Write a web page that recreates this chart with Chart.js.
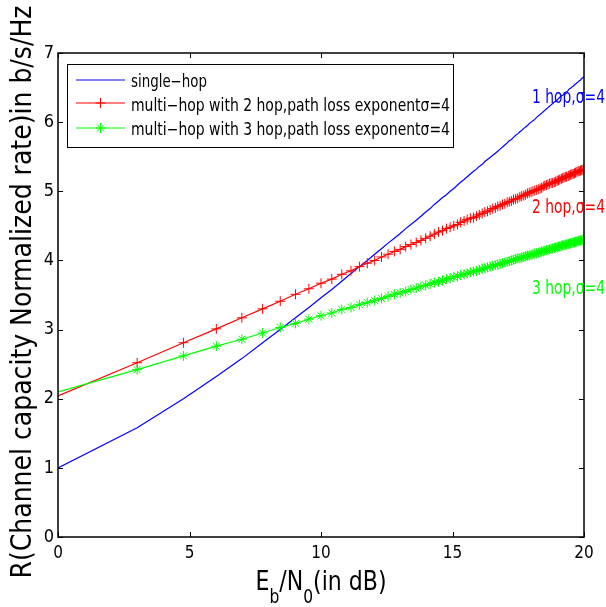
<!DOCTYPE html>
<html>
<head>
<meta charset="utf-8">
<script src="https://cdn.jsdelivr.net/npm/chart.js@4/dist/chart.umd.min.js"></script>
<style>
  html, body { margin: 0; padding: 0; background: #fff; }
  #wrap { width: 606px; height: 607px; }
</style>
</head>
<body>
<div id="wrap"><canvas id="c" width="606" height="607"></canvas></div>
<script>
// Eb/N0 in dB
const snrDb = [
  0, 3.01, 4.77, 6.02, 6.99, 7.78, 8.45, 9.03, 9.54, 10,
  10.41, 10.79, 11.14, 11.46, 11.76, 12.04, 12.30, 12.55, 12.79, 13.01,
  13.22, 13.42, 13.62, 13.80, 13.98, 14.15, 14.31, 14.47, 14.62, 14.77,
  14.91, 15.05, 15.19, 15.31, 15.44, 15.56, 15.68, 15.80, 15.91, 16.02,
  16.13, 16.23, 16.33, 16.43, 16.53, 16.63, 16.72, 16.81, 16.90, 16.99,
  17.08, 17.16, 17.24, 17.32, 17.40, 17.48, 17.56, 17.63, 17.71, 17.78,
  17.85, 17.92, 17.99, 18.06, 18.13, 18.20, 18.26, 18.33, 18.39, 18.45,
  18.51, 18.57, 18.63, 18.69, 18.75, 18.81, 18.87, 18.92, 18.98, 19.03,
  19.08, 19.14, 19.19, 19.24, 19.29, 19.34, 19.40, 19.44, 19.49, 19.54,
  19.59, 19.64, 19.68, 19.73, 19.78, 19.82, 19.87, 19.91, 19.96, 20
];

const singleHop = [
  1.00, 1.58, 2.00, 2.32, 2.58, 2.81, 3.00, 3.17, 3.32, 3.46,
  3.58, 3.70, 3.81, 3.91, 4.00, 4.09, 4.17, 4.25, 4.32, 4.39,
  4.46, 4.52, 4.58, 4.64, 4.70, 4.75, 4.81, 4.86, 4.91, 4.95,
  5.00, 5.04, 5.09, 5.13, 5.17, 5.21, 5.25, 5.29, 5.32, 5.36,
  5.39, 5.43, 5.46, 5.49, 5.52, 5.55, 5.58, 5.61, 5.64, 5.67,
  5.70, 5.73, 5.75, 5.78, 5.81, 5.83, 5.86, 5.88, 5.91, 5.93,
  5.95, 5.98, 6.00, 6.02, 6.04, 6.07, 6.09, 6.11, 6.13, 6.15,
  6.17, 6.19, 6.21, 6.23, 6.25, 6.27, 6.29, 6.30, 6.32, 6.34,
  6.36, 6.38, 6.39, 6.41, 6.43, 6.44, 6.46, 6.48, 6.49, 6.51,
  6.52, 6.54, 6.55, 6.57, 6.58, 6.60, 6.61, 6.63, 6.64, 6.66
];

const twoHop = [
  2.04, 2.52, 2.81, 3.01, 3.17, 3.30, 3.41, 3.51, 3.59, 3.67,
  3.73, 3.80, 3.85, 3.91, 3.96, 4.00, 4.05, 4.09, 4.13, 4.16,
  4.20, 4.23, 4.26, 4.29, 4.32, 4.35, 4.38, 4.41, 4.43, 4.46,
  4.48, 4.50, 4.52, 4.55, 4.57, 4.59, 4.61, 4.62, 4.64, 4.66,
  4.68, 4.70, 4.71, 4.73, 4.75, 4.76, 4.78, 4.79, 4.81, 4.82,
  4.84, 4.85, 4.86, 4.88, 4.89, 4.90, 4.92, 4.93, 4.94, 4.95,
  4.97, 4.98, 4.99, 5.00, 5.01, 5.02, 5.03, 5.04, 5.05, 5.07,
  5.08, 5.09, 5.10, 5.11, 5.12, 5.12, 5.13, 5.14, 5.15, 5.16,
  5.17, 5.18, 5.19, 5.20, 5.21, 5.21, 5.22, 5.23, 5.24, 5.25,
  5.25, 5.26, 5.27, 5.28, 5.29, 5.29, 5.30, 5.31, 5.31, 5.32
];

const threeHop = [
  2.10, 2.42, 2.62, 2.76, 2.86, 2.95, 3.03, 3.09, 3.15, 3.20,
  3.24, 3.29, 3.32, 3.36, 3.39, 3.42, 3.45, 3.48, 3.51, 3.53,
  3.55, 3.58, 3.60, 3.62, 3.64, 3.66, 3.68, 3.69, 3.71, 3.73,
  3.74, 3.76, 3.77, 3.79, 3.80, 3.81, 3.83, 3.84, 3.85, 3.86,
  3.88, 3.89, 3.90, 3.91, 3.92, 3.93, 3.94, 3.95, 3.96, 3.97,
  3.98, 3.99, 4.00, 4.01, 4.02, 4.03, 4.03, 4.04, 4.05, 4.06,
  4.07, 4.07, 4.08, 4.09, 4.10, 4.10, 4.11, 4.12, 4.13, 4.13,
  4.14, 4.15, 4.15, 4.16, 4.17, 4.17, 4.18, 4.19, 4.19, 4.20,
  4.20, 4.21, 4.22, 4.22, 4.23, 4.23, 4.24, 4.24, 4.25, 4.25,
  4.26, 4.26, 4.27, 4.27, 4.28, 4.29, 4.29, 4.29, 4.30, 4.30
];

const xTicks = [0, 5, 10, 15, 20];
const yTicks = [0, 1, 2, 3, 4, 5, 6, 7];
const seriesNames = [
  "single\u2212hop",
  "multi\u2212hop with 2 hop,path loss exponent\u03c3=4",
  "multi\u2212hop with 3 hop,path loss exponent\u03c3=4"
];
const endLabels = ["1 hop,\u03c3=4", "2 hop,\u03c3=4", "3 hop,\u03c3=4"];

const FONT = '"DejaVu Sans Condensed", "DejaVu Sans", sans-serif';
const BLUE = "#0000ff", RED = "#ff0000", GREEN = "#00ff00";

function pts(ys) {
  return snrDb.map((x, i) => ({ x: x, y: ys[i] }));
}

// first point has no marker in the original
const markerRadius = (ctx) => (ctx.dataIndex === 0 ? 0 : 5);

// draw text squeezed horizontally to a given width (the original font is narrow)
function fitText(ctx, text, x, y, width) {
  const w = ctx.measureText(text).width;
  const k = Math.min(1, width / w);
  ctx.save();
  ctx.translate(x, y);
  ctx.scale(k, 1);
  ctx.fillText(text, 0, 0);
  ctx.restore();
}

const decor = {
  id: "decor",
  afterDraw(chart) {
    const ctx = chart.ctx;
    const a = chart.chartArea;
    const xs = chart.scales.x, ys = chart.scales.y;
    ctx.save();

    // axes box
    ctx.strokeStyle = "#000";
    ctx.lineWidth = 1.5;
    ctx.strokeRect(a.left, a.top, a.right - a.left, a.bottom - a.top);

    // inward ticks on all sides
    ctx.lineWidth = 1;
    ctx.beginPath();
    xTicks.forEach((t) => {
      const px = Math.round(xs.getPixelForValue(t)) + 0.5;
      ctx.moveTo(px, a.bottom); ctx.lineTo(px, a.bottom - 5);
      ctx.moveTo(px, a.top); ctx.lineTo(px, a.top + 5);
    });
    yTicks.forEach((t) => {
      const py = Math.round(ys.getPixelForValue(t)) + 0.5;
      ctx.moveTo(a.left, py); ctx.lineTo(a.left + 5, py);
      ctx.moveTo(a.right, py); ctx.lineTo(a.right - 5, py);
    });
    ctx.stroke();

    // legend
    const lx = 67, ly = 64, lw = 386, lh = 83;
    ctx.fillStyle = "#fff";
    ctx.fillRect(lx, ly, lw, lh);
    ctx.strokeStyle = "#000";
    ctx.lineWidth = 1;
    ctx.strokeRect(lx + 0.5, ly + 0.5, lw, lh);
    const lineY = [80, 103, 128];
    const textY = [87, 111, 135];
    const textW = [76, 319, 319];
    ctx.font = "17px " + FONT;
    ctx.textBaseline = "alphabetic";
    ctx.textAlign = "left";
    chart.data.datasets.forEach((ds, i) => {
      const y = lineY[i];
      ctx.strokeStyle = ds.borderColor;
      ctx.lineWidth = 1;
      ctx.beginPath();
      ctx.moveTo(76, y); ctx.lineTo(125, y);
      ctx.stroke();
      if (ds.pointStyle) {
        ctx.strokeStyle = ds.borderColor;
        ctx.fillStyle = ds.borderColor;
        Chart.helpers.drawPoint(ctx, {
          pointStyle: ds.pointStyle, radius: 5, rotation: 0, borderWidth: 1
        }, 100.5, y);
      }
      ctx.fillStyle = "#000";
      fitText(ctx, seriesNames[i], 131, textY[i], textW[i]);
    });

    // curve labels at the right
    ctx.font = "19px " + FONT;
    const labelY = [103, 213, 294];
    const labelC = [BLUE, RED, GREEN];
    endLabels.forEach((t, i) => {
      ctx.fillStyle = labelC[i];
      fitText(ctx, t, 532, labelY[i], 73);
    });

    // x title with subscripts
    ctx.fillStyle = "#000";
    const big = "27px " + FONT, small = "19px " + FONT;
    const parts = [["E", big, 0], ["b", small, 13], ["/N", big, 0], ["0", small, 13], ["(in dB)", big, 0]];
    let total = 0;
    parts.forEach((p) => { ctx.font = p[1]; total += ctx.measureText(p[0]).width; });
    const targetW = 131;
    const k = Math.min(1, targetW / total);
    ctx.save();
    ctx.translate((a.left + a.right) / 2 - targetW / 2, 590);
    ctx.scale(k, 1);
    let cx = 0;
    parts.forEach((p) => {
      ctx.font = p[1];
      ctx.fillText(p[0], cx, p[2]);
      cx += ctx.measureText(p[0]).width;
    });
    ctx.restore();

    // y title
    ctx.save();
    ctx.translate(24, 292);
    ctx.rotate(-Math.PI / 2);
    ctx.font = "28px " + FONT;
    ctx.textAlign = "left";
    ctx.textBaseline = "middle";
    const yt = "R(Channel capacity Normalized rate)in b/s/Hz";
    const ytw = Math.min(573, ctx.measureText(yt).width);
    fitText(ctx, yt, -ytw / 2, 0, 573);
    ctx.restore();

    ctx.restore();
  }
};

new Chart(document.getElementById("c"), {
  type: "line",
  data: {
    datasets: [
      {
        label: seriesNames[0],
        data: pts(singleHop),
        borderColor: BLUE,
        backgroundColor: BLUE,
        borderWidth: 1.2,
        pointRadius: 0,
        pointStyle: false,
        order: 2
      },
      {
        label: seriesNames[1],
        data: pts(twoHop),
        borderColor: RED,
        backgroundColor: RED,
        borderWidth: 1.2,
        pointStyle: "cross",
        pointRadius: markerRadius,
        pointBorderWidth: 1,
        order: 1
      },
      {
        label: seriesNames[2],
        data: pts(threeHop),
        borderColor: GREEN,
        backgroundColor: GREEN,
        borderWidth: 1.2,
        pointStyle: "star",
        pointRadius: markerRadius,
        pointBorderWidth: 1,
        order: 0
      }
    ]
  },
  options: {
    responsive: false,
    animation: false,
    devicePixelRatio: 1,
    layout: { padding: { top: 53, right: 22, left: 0, bottom: 0 } },
    plugins: { legend: { display: false }, tooltip: { enabled: false } },
    elements: { line: { tension: 0 } },
    scales: {
      x: {
        type: "linear",
        min: 0,
        max: 20,
        afterFit: (s) => { s.height = 70; },
        afterBuildTicks: (s) => { s.ticks = xTicks.map((v) => ({ value: v })); },
        grid: { display: false, drawTicks: false },
        border: { display: false },
        ticks: { color: "#000", padding: 6, font: { size: 17, family: FONT }, maxRotation: 0 }
      },
      y: {
        type: "linear",
        min: 0,
        max: 7,
        afterFit: (s) => { s.width = 58; },
        afterBuildTicks: (s) => { s.ticks = yTicks.map((v) => ({ value: v })); },
        grid: { display: false, drawTicks: false },
        border: { display: false },
        ticks: { color: "#000", padding: 4, font: { size: 18, family: FONT } }
      }
    }
  },
  plugins: [decor]
});
</script>
</body>
</html>
